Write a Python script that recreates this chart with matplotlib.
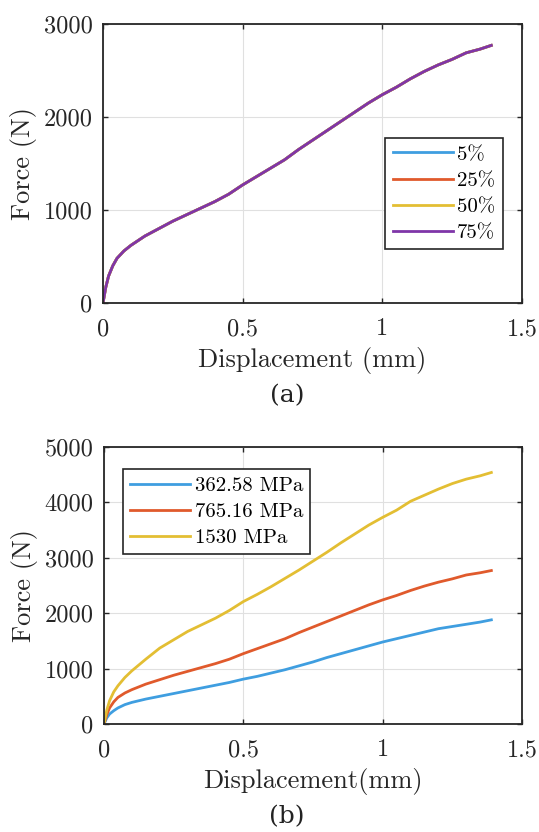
import matplotlib
matplotlib.use("Agg")
import matplotlib.pyplot as plt

plt.rcParams['font.family'] = ['cmr10', 'DejaVu Serif']
plt.rcParams['mathtext.fontset'] = 'cm'
plt.rcParams['axes.formatter.use_mathtext'] = True

# ---- data ----
disp = [0.0, 0.01, 0.02, 0.035, 0.05, 0.075, 0.1, 0.15, 0.2, 0.25, 0.3, 0.35, 0.4, 0.45,
        0.5, 0.55, 0.6, 0.65, 0.7, 0.75, 0.8, 0.85, 0.9, 0.95, 1.0, 1.05, 1.1,
        1.15, 1.2, 1.25, 1.3, 1.35, 1.39]

force_765 = [0, 170, 290, 400, 480, 560, 620, 720, 800, 880, 950, 1020, 1090, 1170,
             1270, 1360, 1450, 1540, 1650, 1750, 1850, 1950, 2050, 2150, 2240, 2320,
             2410, 2490, 2560, 2620, 2690, 2730, 2770]

force_362 = [0, 110, 180, 240, 290, 350, 390, 450, 500, 550, 600, 650, 700, 750,
             810, 860, 920, 980, 1050, 1120, 1200, 1270, 1340, 1410, 1480, 1540,
             1600, 1660, 1720, 1760, 1800, 1840, 1880]

force_1530 = [0, 250, 420, 580, 690, 840, 960, 1170, 1370, 1520, 1670, 1790, 1910, 2050,
              2210, 2340, 2480, 2630, 2780, 2940, 3100, 3270, 3430, 3590, 3730, 3860,
              4020, 4130, 4240, 4340, 4420, 4480, 4540]

labels_a = ['5%', '25%', '50%', '75%']
series_a = [force_765, force_765, force_765, force_765]
colors_a = ['#3f9ee0', '#e05a2c', '#e3be33', '#7f35a8']

labels_b = ['362.58 MPa', '765.16 MPa', '1530 MPa']
series_b = [force_362, force_765, force_1530]
colors_b = ['#3f9ee0', '#e05a2c', '#e3be33']

xticks = [0, 0.5, 1, 1.5]
xticklabels = ['0', '0.5', '1', '1.5']
yticks_a = [0, 1000, 2000, 3000]
yticks_b = [0, 1000, 2000, 3000, 4000, 5000]

fig = plt.figure(figsize=(5.39, 8.32), dpi=100)
axA = fig.add_axes([103 / 539, 1 - 303 / 832, 419 / 539, 279 / 832])
axB = fig.add_axes([104 / 539, 1 - 724 / 832, 418 / 539, 277 / 832])

TICK_FS = 17.5
LAB_FS = 19
LEG_FS = 15

def style(ax, yticks, ymax):
    ax.set_xlim(0, 1.5)
    ax.set_ylim(0, ymax)
    ax.set_xticks(xticks)
    ax.set_xticklabels(xticklabels)
    ax.set_yticks(yticks)
    ax.set_yticklabels([str(v) for v in yticks])
    ax.grid(True, color='#e0e0e0', linewidth=0.8)
    ax.set_axisbelow(True)
    ax.tick_params(direction='in', length=3.5, width=1.0, top=True, right=True,
                   labelsize=TICK_FS, colors='#262626')
    ax.tick_params(axis='x', pad=11)
    ax.tick_params(axis='y', pad=7.5)
    for s in ax.spines.values():
        s.set_color('#262626')
        s.set_linewidth(1.3)

def legend(ax, **kw):
    leg = ax.legend(borderaxespad=0, fontsize=LEG_FS, frameon=True, fancybox=False,
                    framealpha=1, edgecolor='#262626', handlelength=2.9,
                    labelspacing=0.36, handletextpad=0.2, borderpad=0.35, **kw)
    leg.get_frame().set_linewidth(1.2)
    return leg

for lab, ys, c in zip(labels_a, series_a, colors_a):
    axA.plot(disp, ys, color=c, lw=2.0, label=lab)
style(axA, yticks_a, 3000)
axA.set_xlabel('Displacement (mm)', fontsize=LAB_FS, color='#262626', labelpad=5)
axA.set_ylabel('Force (N)', fontsize=LAB_FS, color='#262626', labelpad=5)
legend(axA, loc='lower right', bbox_to_anchor=(0.954, 0.1925))

for lab, ys, c in zip(labels_b, series_b, colors_b):
    axB.plot(disp, ys, color=c, lw=2.0, label=lab)
style(axB, yticks_b, 5000)
axB.set_xlabel('Displacement(mm)', fontsize=LAB_FS, color='#262626', labelpad=5)
axB.set_ylabel('Force (N)', fontsize=LAB_FS, color='#262626', labelpad=5)
legend(axB, loc='upper left', bbox_to_anchor=(0.0447, 0.9206))

fig.text(287 / 539, 1 - 396 / 832, '(a)', ha='center', va='center', fontsize=18,
         family=['DejaVu Serif'], color='#222222')
fig.text(287 / 539, 1 - 817 / 832, '(b)', ha='center', va='center', fontsize=18,
         family=['DejaVu Serif'], color='#222222')

fig.savefig('out.png', dpi=100)
